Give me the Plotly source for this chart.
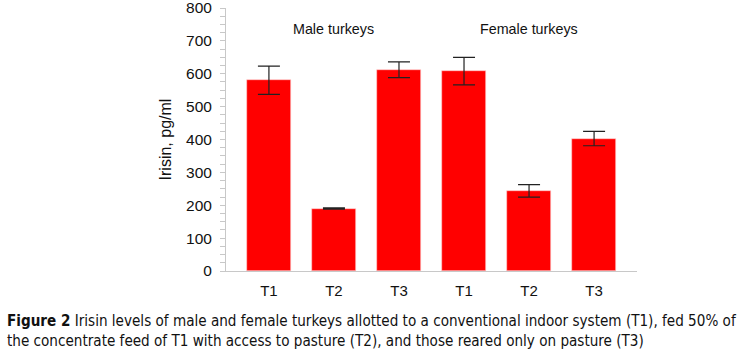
import plotly.graph_objects as go

categories = ["T1", "T2", "T3", "T1 ", "T2 ", "T3 "]
tick_labels = ["T1", "T2", "T3", "T1", "T2", "T3"]
irisin = [580, 190, 612, 608, 244, 403]
irisin_err = [43, 2, 24, 42, 19, 22]
group_labels = ["Male turkeys", "Female turkeys"]
group_centers = [1, 4]

L, R, T, B = 226, 104, 8, 80
PW = 741 - L - R
PH = 351 - T - B

fig = go.Figure()
fig.add_trace(go.Bar(
    x=list(range(len(categories))),
    y=irisin,
    width=0.667,
    marker=dict(color="#FF0000", line=dict(color="#FFD0D0", width=0.6)),
    error_y=dict(type="data", array=irisin_err, visible=True,
                 color="#222222", thickness=1.2, width=11),
    showlegend=False,
))

for lab, c in zip(group_labels, group_centers):
    fig.add_annotation(x=c, y=736, xref="x", yref="y", text=lab, showarrow=False,
                       font=dict(family="Liberation Sans, Arial", size=14.3, color="#111111"))

caption = ("<b>Figure 2</b> Irisin levels of male and female turkeys allotted to a conventional indoor system (T1), fed 50% of<br>"
           "the concentrate feed of T1 with access to pasture (T2), and those reared only on pasture (T3)")
fig.add_annotation(x=-(L - 5) / PW, y=-0.150, xref="paper", yref="paper", xanchor="left", yanchor="top",
                   text=caption, showarrow=False, align="left",
                   font=dict(family="DejaVu Sans Condensed, Arial Narrow", size=15.1, color="#111111"))

fig.update_layout(
    width=741, height=351,
    margin=dict(l=L, r=R, t=T, b=B, pad=0, autoexpand=False),
    plot_bgcolor="white", paper_bgcolor="white",
    font=dict(family="Liberation Sans, Arial", size=15, color="#111111"),
    bargap=0,
)
fig.update_xaxes(
    range=[-0.66, 5.66], automargin=False,
    tickmode="array", tickvals=list(range(len(categories))), ticktext=tick_labels,
    showline=True, linecolor="#c8c8c8", linewidth=1, ticks="", showgrid=False,
    tickfont=dict(size=15), ticklabelstandoff=6,
)
fig.update_yaxes(
    range=[0, 800], dtick=100, automargin=False,
    showline=True, linecolor="#c8c8c8", linewidth=1,
    ticks="outside", ticklen=5, tickcolor="#c8c8c8",
    minor=dict(dtick=25, ticks="outside", ticklen=5, tickcolor="#c8c8c8"),
    showgrid=False, zeroline=False, ticklabeloverflow="allow",
    tickfont=dict(size=15.5), ticklabelstandoff=5,
    title=dict(text="Irisin, pg/ml", font=dict(size=16), standoff=10),
)

fig.write_html("out.html", config={"displayModeBar": False},
               post_script="document.body.style.margin='0';")
